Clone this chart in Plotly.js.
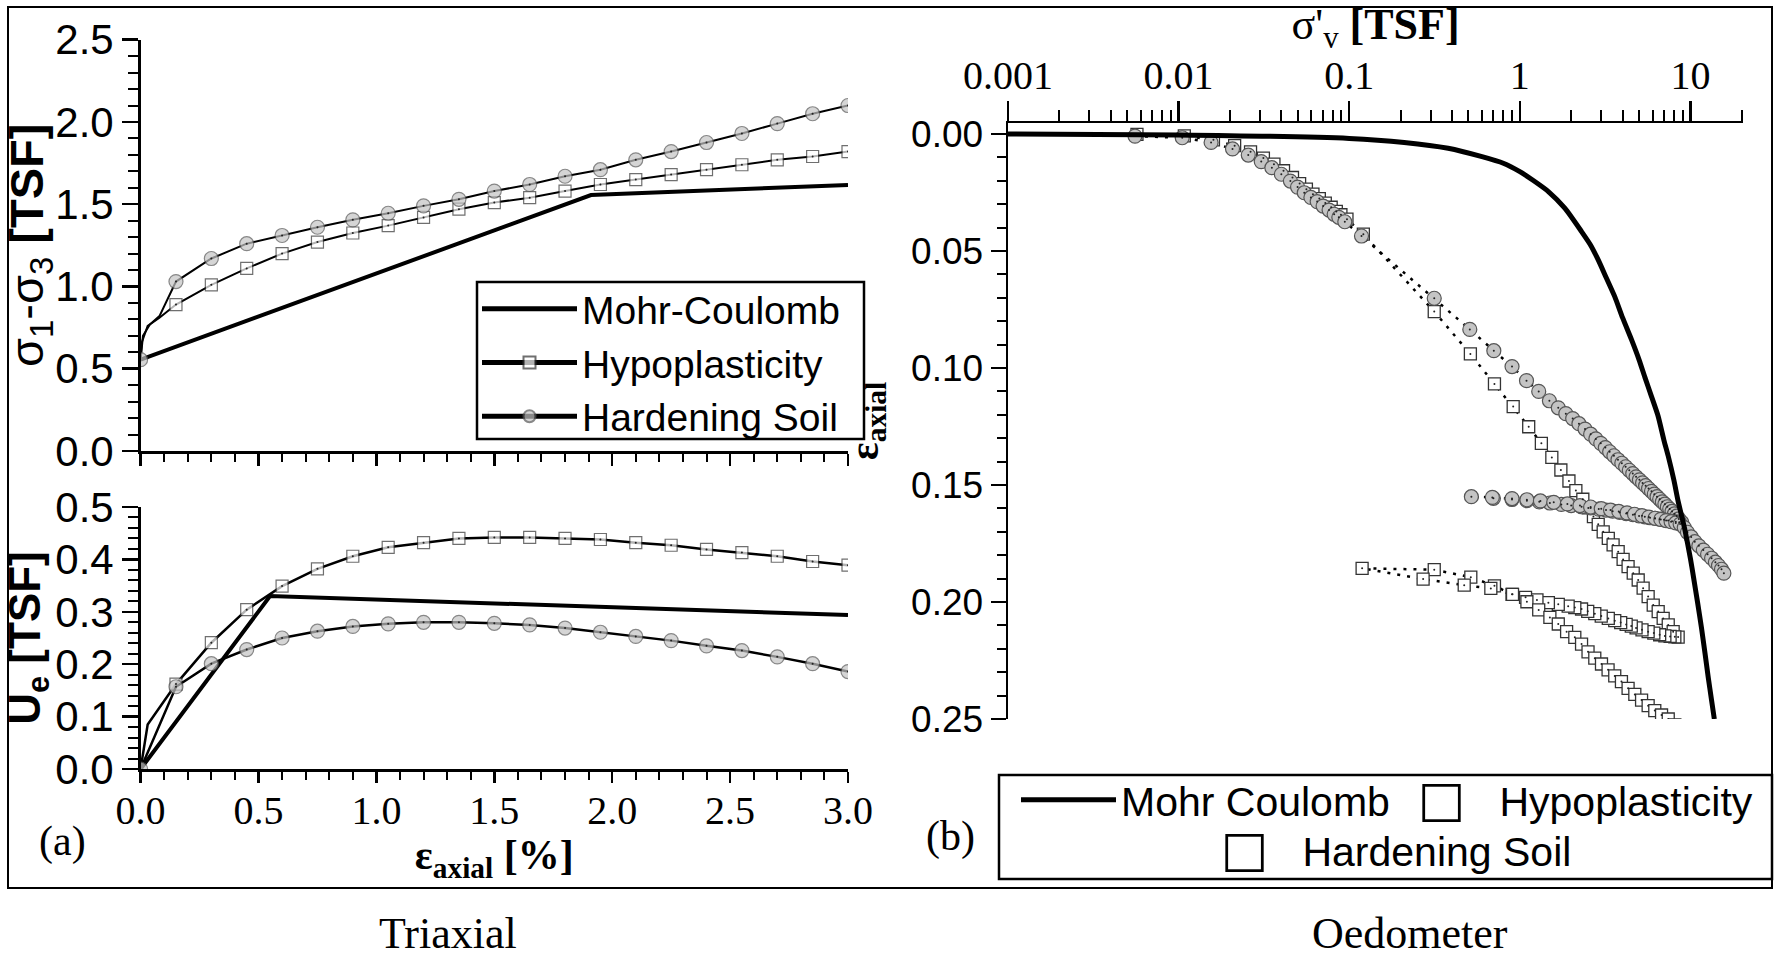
<!DOCTYPE html>
<html><head><meta charset="utf-8">
<script src="https://cdn.plot.ly/plotly-3.0.1.min.js"></script>
<style>html,body{margin:0;padding:0;background:#fff}</style>
</head><body><div id="chart" style="width:1778px;height:960px"></div>
<script>
// ---------------- Triaxial (a) ----------------
const epsMarkers = [0.15,0.30,0.45,0.60,0.75,0.90,1.05,1.20,1.35,1.50,1.65,1.80,1.95,2.10,2.25,2.40,2.55,2.70,2.85,3.00];
// deviator stress q = sigma1 - sigma3 [TSF]
const qHypo = [0.89,1.01,1.11,1.20,1.27,1.325,1.37,1.42,1.47,1.51,1.54,1.58,1.62,1.65,1.68,1.71,1.74,1.77,1.79,1.82];
const qHS   = [1.03,1.17,1.26,1.31,1.36,1.405,1.445,1.49,1.53,1.58,1.62,1.67,1.71,1.77,1.82,1.875,1.93,1.99,2.05,2.10];
const qHypoEarlyX = [0, 0.005, 0.03, 0.08];
const qHypoEarlyY = [0.555, 0.66, 0.76, 0.81];
const qHSEarlyX = [0, 0.01, 0.04, 0.08];
const qHSEarlyY = [0.555, 0.70, 0.77, 0.82];
const qMCX = [0, 1.91, 3.0];
const qMCY = [0.555, 1.556, 1.617];
// excess pore pressure Ue [TSF]
const ueHypo = [0.162,0.241,0.304,0.349,0.382,0.406,0.423,0.432,0.440,0.442,0.442,0.440,0.438,0.432,0.427,0.419,0.413,0.406,0.396,0.389];
const ueHS   = [0.157,0.201,0.228,0.250,0.263,0.272,0.277,0.280,0.280,0.278,0.275,0.269,0.261,0.253,0.245,0.235,0.226,0.214,0.201,0.186];
const ueHypoEarlyX = [0, 0.03];
const ueHypoEarlyY = [0, 0.085];
const ueHSEarlyX = [0];
const ueHSEarlyY = [0];
const ueMCX = [0, 0.549, 3.0];
const ueMCY = [0, 0.330, 0.294];

// ---------------- Oedometer (b) ----------------
const oedMCX = [0.001,0.01,0.1,0.21,0.38,0.6,0.8,1.0,1.2,1.47,1.84,2.3,2.6,2.88,3.2,3.6,4.0,4.52,5.0,5.41,5.9,6.46,7.0,7.4,8.0,8.47,9.0,9.27,10.0,10.4,11.0,11.6,12.2,12.7,13.3,13.8];
const oedMCY = [0.0,0.0004,0.0019,0.0036,0.0061,0.0097,0.0125,0.0161,0.0199,0.0246,0.0318,0.0417,0.0475,0.0538,0.0612,0.0695,0.0785,0.0880,0.0965,0.1040,0.1120,0.1205,0.1310,0.1375,0.1480,0.1570,0.1650,0.1690,0.1815,0.1890,0.2000,0.2110,0.2225,0.2320,0.2420,0.2500];

const oedHSX = [0.00555,0.0105,0.0155,0.0207,0.0256,0.0305,0.0352,0.0400,0.0452,0.0498,0.0545,0.0596,0.0649,0.0703,0.0762,0.0816,0.0869,0.0942,0.118,
  0.315,0.509,0.704,0.90,1.094,1.29,1.49,1.68,1.86,2.04,2.22,2.41,2.60,2.79,2.98,3.17,3.36,3.56,3.76,3.96,4.17,4.38,4.59,4.80,5.02,5.24,5.46,5.68,5.91,6.14,6.37,6.60,6.84,7.08,7.32,7.56,7.80,8.05,8.30,8.55,8.9,
  8.6,8.2,7.8,7.4,7.0,6.6,6.2,5.8,5.4,5.0,4.6,4.2,3.85,3.5,3.2,2.9,2.6,2.3,2.0,1.75,1.5,1.3,1.1,0.9,0.7,0.52,
  0.69,0.9,1.1,1.32,1.58,1.9,2.25,2.6,3.0,3.4,3.8,4.25,4.7,5.2,5.7,6.2,6.7,7.2,7.7,8.2,8.7,9.2,
  9.6,10.1,10.6,11.2,11.9,12.6,13.3,14.0,14.6,15.2,15.7];
const oedHSY = [0.0009,0.0016,0.0036,0.0064,0.0090,0.0118,0.0144,0.0172,0.0201,0.0227,0.0251,0.0271,0.0289,0.0308,0.0325,0.0343,0.0356,0.0375,0.0436,
  0.0702,0.0835,0.0926,0.0994,0.1054,0.1100,0.1140,0.1170,0.1195,0.1216,0.1238,0.1261,0.1283,0.1303,0.1322,0.1340,0.1358,0.1375,0.1392,0.1407,0.1422,0.1437,0.1451,0.1465,0.1478,0.1491,0.1503,0.1515,0.1527,0.1539,0.1550,0.1561,0.1572,0.1582,0.1593,0.1603,0.1613,0.1623,0.1633,0.1645,0.1660,
  0.1659,0.1657,0.1655,0.1652,0.1649,0.1646,0.1643,0.1640,0.1636,0.1632,0.1627,0.1622,0.1617,0.1612,0.1607,0.1603,0.1598,0.1593,0.1588,0.1583,0.1577,0.1572,0.1567,0.1562,0.1557,0.1550,
  0.1553,0.1558,0.1563,0.1568,0.1574,0.1581,0.1588,0.1594,0.1601,0.1607,0.1613,0.1619,0.1625,0.1631,0.1637,0.1642,0.1647,0.1652,0.1657,0.1662,0.1667,0.1682,
  0.1702,0.1722,0.1742,0.1760,0.1778,0.1796,0.1813,0.1830,0.1844,0.1860,0.1877];

const oedHypoX = [0.0057,0.0108,0.0160,0.0213,0.0264,0.0314,0.0362,0.0412,0.0465,0.0512,0.0561,0.0613,0.0668,0.0724,0.0784,0.0840,0.0894,0.0970,0.121,
  0.315,0.513,0.710,0.914,1.127,1.337,1.54,1.74,1.94,2.13,2.34,2.52,2.70,2.88,3.08,3.30,3.52,3.77,4.03,4.31,4.62,4.94,5.28,5.65,6.05,6.47,6.92,7.41,7.92,8.47,
  8.1,7.6,7.08,6.6,6.1,5.65,5.2,4.8,4.5,4.2,3.9,3.6,3.3,3.0,2.75,2.5,2.3,2.1,1.92,1.68,1.47,1.26,1.08,0.90,0.71,0.516,0.315,0.119,
  0.271,0.472,0.676,0.906,1.10,1.29,1.50,1.68,1.88,2.10,2.30,2.51,2.75,3.01,3.29,3.60,3.94,4.31,4.72,5.17,5.65,6.18,6.77,7.41,8.1];
const oedHypoY = [0.0002,0.0008,0.0025,0.0050,0.0076,0.0103,0.0129,0.0157,0.0186,0.0212,0.0236,0.0257,0.0276,0.0295,0.0313,0.0331,0.0345,0.0364,0.0428,
  0.0759,0.0940,0.1068,0.1165,0.1251,0.1322,0.1382,0.1436,0.1483,0.1524,0.1561,0.1598,0.1635,0.1668,0.1700,0.1728,0.1756,0.1785,0.1818,0.1849,0.1877,0.1906,0.1941,0.1977,0.2013,0.2041,0.2070,0.2098,0.2127,0.2150,
  0.2149,0.2147,0.2145,0.2140,0.2133,0.2127,0.2119,0.2111,0.2103,0.2096,0.2088,0.2080,0.2070,0.2060,0.2050,0.2040,0.2030,0.2024,0.2018,0.2010,0.2003,0.1991,0.1980,0.1967,0.1931,0.1894,0.1862,0.1856,
  0.1902,0.1928,0.1942,0.1967,0.1999,0.2034,0.2066,0.2094,0.2127,0.2151,0.2180,0.2213,0.2240,0.2265,0.2290,0.2316,0.2340,0.2369,0.2395,0.2419,0.2443,0.2464,0.2483,0.2500,0.2525];

const oedTickVals = [0.001, 0.01, 0.1, 1, 10];
const oedTickText = ['0.001', '0.01', '0.1', '1', '10'];

// ---------------- styling ----------------
const SANS = 'Liberation Sans, Arial, sans-serif';
const SERIF = 'Liberation Serif, Times New Roman, serif';
const GRAY = '#c4c4c4';
const W = 1778, H = 960;
const px = v => v / W;
const py = v => 1 - v / H;

function series(earlyX, earlyY, mkX, mkY, originMarked, size) {
  const x = earlyX.concat(mkX), y = earlyY.concat(mkY);
  const n = earlyX.length;
  const sizes = x.map((_, i) => (i >= n || (originMarked && i === 0)) ? size : 0);
  const lw = sizes.map(s => s ? 1.2 : 0);
  return {x, y, sizes, lw};
}

const traces = [];
// --- top panel
traces.push({x: qMCX, y: qMCY, xaxis: 'x', yaxis: 'y', mode: 'lines', name: 'Mohr-Coulomb',
  line: {color: '#000', width: 4}, legend: 'legend'});
let s = series(qHypoEarlyX, qHypoEarlyY, epsMarkers, qHypo, false, 12);
traces.push({x: s.x, y: s.y, xaxis: 'x', yaxis: 'y', mode: 'lines+markers', name: 'Hypoplasticity',
  line: {color: '#000', width: 2}, marker: {symbol: 'square', size: s.sizes, color: '#fff', line: {color: '#333', width: s.lw}}, legend: 'legend'});
s = series(qHSEarlyX, qHSEarlyY, epsMarkers, qHS, true, 14);
traces.push({x: s.x, y: s.y, xaxis: 'x', yaxis: 'y', mode: 'lines+markers', name: 'Hardening Soil',
  line: {color: '#000', width: 2}, marker: {symbol: 'circle', size: s.sizes, color: GRAY, line: {color: '#555', width: s.lw}}, legend: 'legend'});
// --- bottom panel
traces.push({x: ueMCX, y: ueMCY, xaxis: 'x2', yaxis: 'y2', mode: 'lines', showlegend: false,
  line: {color: '#000', width: 4}});
s = series(ueHypoEarlyX, ueHypoEarlyY, epsMarkers, ueHypo, false, 12);
traces.push({x: s.x, y: s.y, xaxis: 'x2', yaxis: 'y2', mode: 'lines+markers', showlegend: false,
  line: {color: '#000', width: 2.5}, marker: {symbol: 'square', size: s.sizes, color: '#fff', line: {color: '#333', width: s.lw}}});
s = series(ueHSEarlyX, ueHSEarlyY, epsMarkers, ueHS, true, 14);
traces.push({x: s.x, y: s.y, xaxis: 'x2', yaxis: 'y2', mode: 'lines+markers', showlegend: false,
  line: {color: '#000', width: 2.5}, marker: {symbol: 'circle', size: s.sizes, color: GRAY, line: {color: '#555', width: s.lw}}});
// centre dots of the triaxial markers
[[epsMarkers, qHypo, 'x', 'y'], [epsMarkers, qHS, 'x', 'y'], [epsMarkers, ueHypo, 'x2', 'y2'], [epsMarkers, ueHS, 'x2', 'y2']].forEach(d => {
  traces.push({x: d[0], y: d[1], xaxis: d[2], yaxis: d[3], mode: 'markers', showlegend: false, hoverinfo: 'skip',
    marker: {size: 2, color: '#222'}});
});
// --- oedometer
traces.push({x: oedHypoX, y: oedHypoY, xaxis: 'x3', yaxis: 'y3', mode: 'lines+markers', showlegend: false,
  line: {color: '#000', width: 2.5, dash: '3px,7px'},
  marker: {symbol: 'square', size: 12, color: '#fff', line: {color: '#333', width: 1.3}}});
traces.push({x: oedHSX, y: oedHSY, xaxis: 'x3', yaxis: 'y3', mode: 'lines+markers', showlegend: false,
  line: {color: '#000', width: 2.5, dash: '3px,7px'},
  marker: {symbol: 'circle', size: 14, color: GRAY, line: {color: '#555', width: 1.2}}});
traces.push({x: oedHypoX, y: oedHypoY, xaxis: 'x3', yaxis: 'y3', mode: 'markers', showlegend: false, hoverinfo: 'skip',
  marker: {size: 2, color: '#222'}});
traces.push({x: oedHSX, y: oedHSY, xaxis: 'x3', yaxis: 'y3', mode: 'markers', showlegend: false, hoverinfo: 'skip',
  marker: {size: 2, color: '#222'}});
traces.push({x: oedMCX, y: oedMCY, xaxis: 'x3', yaxis: 'y3', mode: 'lines', name: 'Mohr Coulomb',
  line: {color: '#000', width: 5, shape: 'spline', smoothing: 0.6}, legend: 'legend2'});
// legend-only entries of panel (b)
const SQ = '<span style="font-family:DejaVu Sans;font-size:50px">\u25A1</span>\u00a0\u00a0\u00a0';
traces.push({x: [null], y: [null], xaxis: 'x3', yaxis: 'y3', mode: 'lines', name: SQ + 'Hypoplasticity',
  line: {color: 'rgba(0,0,0,0)', width: 0}, legend: 'legend3'});
traces.push({x: [null], y: [null], xaxis: 'x3', yaxis: 'y3', mode: 'lines', name: SQ + 'Hardening Soil',
  line: {color: 'rgba(0,0,0,0)', width: 0}, legend: 'legend4'});

const axBase = {showline: true, linecolor: '#000', linewidth: 2.5, ticks: 'outside', tickcolor: '#000', tickwidth: 2.5,
  showgrid: false, zeroline: false};

const layout = {
  width: W, height: H, margin: {l: 0, r: 0, t: 0, b: 0},
  paper_bgcolor: '#fff', plot_bgcolor: 'rgba(0,0,0,0)',
  font: {family: SANS, color: '#000', size: 36},
  showlegend: true,
  xaxis: Object.assign({}, axBase, {domain: [px(140.6), px(848)], anchor: 'y', range: [0, 3], dtick: 0.5, ticklen: 12,
    showticklabels: false, minor: {dtick: 0.1, ticklen: 8, tickwidth: 2, tickcolor: '#000'}}),
  yaxis: Object.assign({}, axBase, {domain: [py(451), py(39.7)], anchor: 'x', range: [0, 2.5], dtick: 0.5, tickformat: '.1f', ticklen: 16,
    tickfont: {family: SANS, size: 42}, minor: {dtick: 0.1, ticklen: 10, tickwidth: 2, tickcolor: '#000'},
    title: {text: 'σ<sub>1</sub>-σ<sub>3</sub> <b>[TSF]</b>', font: {family: SANS, size: 47}, standoff: 2}}),
  xaxis2: Object.assign({}, axBase, {domain: [px(140.6), px(848)], anchor: 'y2', range: [0, 3], dtick: 0.5, tickformat: '.1f', ticklen: 11,
    ticklabelstandoff: -7,
    tickfont: {family: SERIF, size: 40}, minor: {dtick: 0.1, ticklen: 8, tickwidth: 2, tickcolor: '#000'},
    title: {text: '<b>ε<sub>axial</sub> [%]</b>', font: {family: SERIF, size: 42}, standoff: 2}}),
  yaxis2: Object.assign({}, axBase, {domain: [py(769), py(507)], anchor: 'x2', range: [0, 0.5], dtick: 0.1, tickformat: '.1f', ticklen: 16,
    tickfont: {family: SANS, size: 42}, minor: {dtick: 0.02, ticklen: 10, tickwidth: 2, tickcolor: '#000'},
    title: {text: '<b>U<sub>e</sub> [TSF]</b>', font: {family: SANS, size: 44}, standoff: 2}}),
  xaxis3: Object.assign({}, axBase, {domain: [px(1008), px(1743)], anchor: 'y3', side: 'top', type: 'log', range: [-3, 1.308],
    tickmode: 'array', tickvals: oedTickVals, ticktext: oedTickText, ticklen: 20, ticklabelstandoff: -4,
    tickfont: {family: SERIF, size: 40}, minor: {dtick: 'D1', ticklen: 11, tickwidth: 2, tickcolor: '#000'},
    title: {text: 'σ\'<sub>v</sub> <b>[TSF]</b>', font: {family: SERIF, size: 44}, standoff: 0}}),
  yaxis3: Object.assign({}, axBase, {domain: [py(719), py(123)], anchor: 'x3', range: [0.25, -0.0047], tick0: 0, dtick: 0.05, tickformat: '.2f', ticklen: 15,
    tickfont: {family: SANS, size: 37}, minor: {dtick: 0.01, ticklen: 9, tickwidth: 2, tickcolor: '#000'},
    title: {text: '<b>ε<sub>axial</sub></b>', font: {family: SERIF, size: 42}, standoff: 20}}),
  legend: {x: px(477), y: py(277), xanchor: 'left', yanchor: 'top', bgcolor: 'rgba(0,0,0,0)', borderwidth: 0,
    font: {family: SANS, size: 39}, itemwidth: 95, itemsizing: 'constant', tracegroupgap: 0},
  legend2: {x: px(1016), y: py(800), xanchor: 'left', yanchor: 'middle', bgcolor: 'rgba(0,0,0,0)', borderwidth: 0,
    font: {family: SANS, size: 41}, itemwidth: 95},
  legend3: {x: px(1378), y: py(800), xanchor: 'left', yanchor: 'middle', bgcolor: 'rgba(0,0,0,0)', borderwidth: 0,
    font: {family: SANS, size: 41}, itemwidth: 30},
  legend4: {x: px(1181), y: py(850), xanchor: 'left', yanchor: 'middle', bgcolor: 'rgba(0,0,0,0)', borderwidth: 0,
    font: {family: SANS, size: 41}, itemwidth: 30},
  shapes: [
    {type: 'rect', xref: 'paper', yref: 'paper', x0: px(8), x1: px(1772), y0: py(888), y1: py(7), line: {color: '#000', width: 2}},
    {type: 'rect', xref: 'paper', yref: 'paper', x0: px(477), x1: px(864), y0: py(439), y1: py(282), fillcolor: 'rgba(255,255,255,0.9)', layer: 'below', line: {color: '#000', width: 2.5}},
    {type: 'rect', xref: 'paper', yref: 'paper', x0: px(999), x1: px(1772), y0: py(879), y1: py(775), line: {color: '#000', width: 2.5}}
  ],
  annotations: [
    {text: '(a)', xref: 'paper', yref: 'paper', x: px(62), y: py(841), xanchor: 'center', yanchor: 'middle', showarrow: false, font: {family: SERIF, size: 42}},
    {text: '(b)', xref: 'paper', yref: 'paper', x: px(950), y: py(836), xanchor: 'center', yanchor: 'middle', showarrow: false, font: {family: SERIF, size: 42}},
    {text: 'Triaxial', xref: 'paper', yref: 'paper', x: px(448), y: py(933), xanchor: 'center', yanchor: 'middle', borderpad: 0, showarrow: false, font: {family: SERIF, size: 44}},
    {text: 'Oedometer', xref: 'paper', yref: 'paper', x: px(1410), y: py(933), xanchor: 'center', yanchor: 'middle', borderpad: 0, showarrow: false, font: {family: SERIF, size: 44}}
  ]
};

Plotly.newPlot('chart', traces, layout, {displayModeBar: false, staticPlot: true});
</script></body></html>
